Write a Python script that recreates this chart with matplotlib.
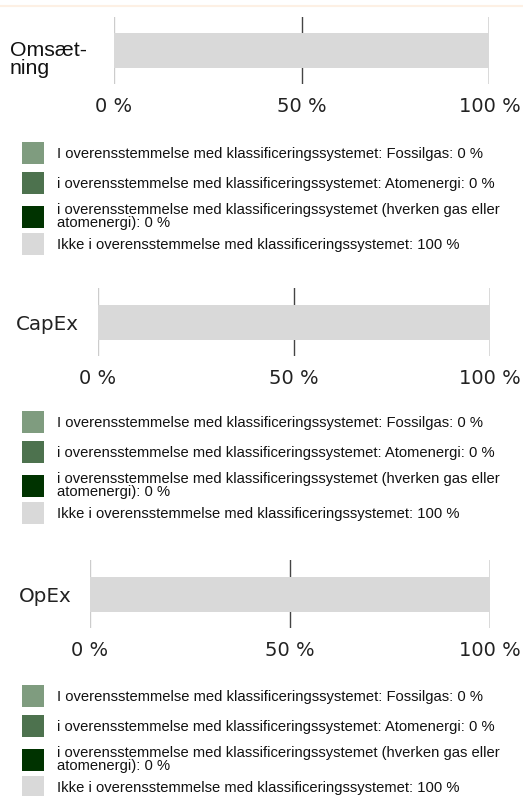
import matplotlib
matplotlib.use("Agg")
import matplotlib.pyplot as plt
from matplotlib.lines import Line2D
from matplotlib.transforms import ScaledTranslation

# ---- data ----
kpis = ["Omsæt-\nning", "CapEx", "OpEx"]
fossilgas = [0, 0, 0]
atomenergi = [0, 0, 0]
neither = [0, 0, 0]
not_aligned = [100, 100, 100]
ticks = [0, 50, 100]
tick_labels = ["0 %", "50 %", "100 %"]
label_tpl = [
    "I overensstemmelse med klassificeringssystemet: Fossilgas: {} %",
    "i overensstemmelse med klassificeringssystemet: Atomenergi: {} %",
    "i overensstemmelse med klassificeringssystemet (hverken gas eller\natomenergi): {} %",
    "Ikke i overensstemmelse med klassificeringssystemet: {} %",
]
colors = ["#7f9c7f", "#4d724e", "#003300", "#d9d9d9"]

# ---- layout (pixels) ----
W, H = 523, 796
RIGHT = 489.5
# left, top, bottom of bar axes, legend top, label pad
panels = [(114, 17, 84, 142, 27), (98, 288, 356, 411, 19), (90, 560, 628, 685, 18)]
BAR_PX = 35
ROW_PX = 30.3
LEG_FS = 10.6                      # pt
fs_px = LEG_FS / 0.72
SQ_W = 22 / fs_px                  # 22 px swatch width
# legend box height = fs*hh - 0.35*fs*(hh-0.7)  ->  solve for 22 px
SQ_H = (22 / fs_px - 0.245) / 0.65

fig = plt.figure(figsize=(W / 100, H / 100), dpi=100)
fig.add_artist(Line2D([0, 1], [1 - 6 / H] * 2, transform=fig.transFigure,
                      color="#fdf0e4", lw=1.5))


def add_legend(ax, hs, labs, top_px):
    leg = ax.legend(hs, labs, loc="upper left",
                    bbox_to_anchor=(22 / W, 1 - top_px / H), bbox_transform=fig.transFigure,
                    frameon=False, borderpad=0, borderaxespad=0,
                    prop={"family": "Liberation Sans", "size": LEG_FS},
                    handlelength=SQ_W, handleheight=SQ_H, handletextpad=9.4 / LEG_FS,
                    labelspacing=(ROW_PX - 22) * 0.72 / LEG_FS)
    for txt in leg.get_texts():
        txt.set_linespacing(0.92)
        txt.set_color("#111111")
    return leg


for i, (left, top, bottom, legtop, pad) in enumerate(panels):
    ax = fig.add_axes([left / W, 1 - bottom / H, (RIGHT - left) / W, (bottom - top) / H])
    vals = [fossilgas[i], atomenergi[i], neither[i], not_aligned[i]]
    acc = 0
    handles = []
    for v, c in zip(vals, colors):
        b = ax.barh(0, v, left=acc, height=BAR_PX / (bottom - top), color=c, zorder=2)
        handles.append(b)
        acc += v
    ax.set_xlim(0, 100)
    ax.set_ylim(-0.5, 0.5)
    for t in ticks:
        ax.axvline(t, color="#cccccc" if t == 0 else "#444444", lw=1, zorder=1)
    for s in ax.spines.values():
        s.set_visible(False)
    ax.set_xticks(ticks, tick_labels)
    ax.tick_params(axis="x", length=0, pad=9, labelsize=14, labelcolor="#222222")
    ax.set_yticks([0], [kpis[i]])
    ax.tick_params(axis="y", length=0, pad=pad * 0.72, labelsize=14.3, labelcolor="#222222")
    if i == 0:
        lab = ax.get_yticklabels()[0]
        lab.set_family("Liberation Sans")
        lab.set_fontsize(15.3)
        lab.set_linespacing(0.88)
        lab.set_multialignment("left")
        lab.set_color("#111111")
        lab.set_transform(lab.get_transform() + ScaledTranslation(0, -8 / 100, fig.dpi_scale_trans))

    labels = [tpl.format(v) for tpl, v in zip(label_tpl, vals)]
    # the wrapped third entry does not push the last row down in the original
    first = add_legend(ax, handles[:3], labels[:3], legtop)
    ax.add_artist(first)
    add_legend(ax, handles[3:], labels[3:], legtop + 3 * ROW_PX)

fig.savefig("out.png", dpi=100)
